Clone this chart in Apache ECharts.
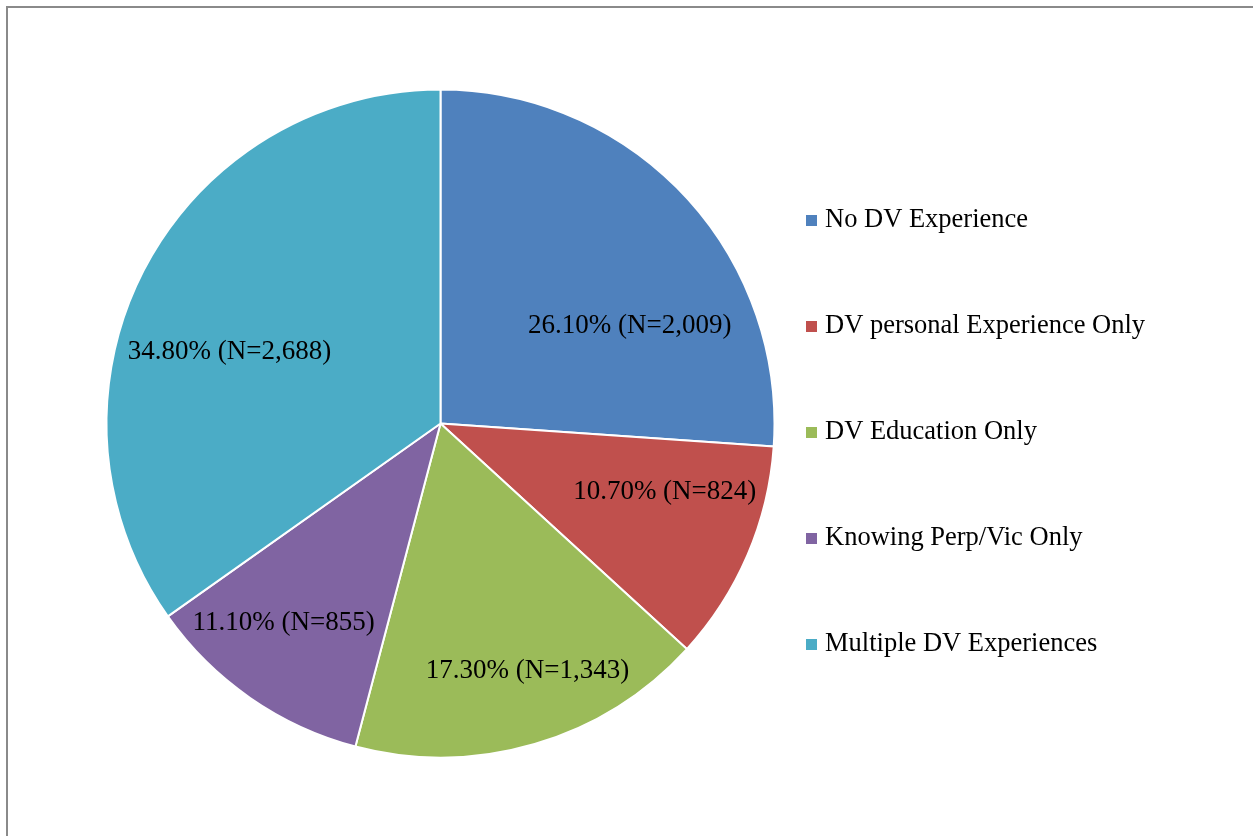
<!DOCTYPE html>
<html lang="en">
<head>
  <meta charset="UTF-8">
  <script src="https://cdn.jsdelivr.net/npm/echarts/dist/echarts.min.js"></script>
  <style>
    html, body { margin: 0; padding: 0; background: #fff; }
    #chart { width: 1253px; height: 836px; }
    /* frame around the plot, runs off right and bottom */
    #frame {
      position: absolute;
      left: 6px;
      top: 6px;
      width: 1400px;
      height: 1000px;
      border-left: 2px solid #8a8a8a;
      border-top: 2px solid #8a8a8a;
      pointer-events: none;
    }
  </style>
</head>
<body>
  <div id="chart"></div>
  <div id="frame"></div>
  <script>
    const categories = [
      'No DV Experience',
      'DV personal Experience Only',
      'DV Education Only',
      'Knowing Perp/Vic Only',
      'Multiple DV Experiences'
    ];
    const percents = [26.1, 10.7, 17.3, 11.1, 34.8];
    const counts = ['2,009', '824', '1,343', '855', '2,688'];
    const colors = ['#4F81BD', '#C0504D', '#9BBB59', '#8064A2', '#4BACC6'];
    // nudges to mimic Excel's best-fit label spots
    const labelOffsets = [[65, 18], [68, 1], [39, 84], [-60, 60], [-60, 7]];

    const chart = echarts.init(document.getElementById('chart'));
    const font = '"Liberation Serif", "Times New Roman", serif';

    chart.setOption({
      animation: false,
      color: colors,
      legend: {
        orient: 'vertical',
        left: 806,
        top: 207,
        padding: 0,
        itemWidth: 11,
        itemHeight: 11,
        itemGap: 79,
        icon: 'rect',
        itemStyle: { borderWidth: 0 },
        textStyle: {
          fontFamily: font, fontSize: 26.5, color: '#000', lineHeight: 26,
          padding: [0, 0, 0, 3]
        },
        data: categories
      },
      series: [{
        type: 'pie',
        center: [440.5, 423.5],
        radius: 334,
        startAngle: 90,
        clockwise: true,
        itemStyle: { borderColor: '#fff', borderWidth: 2 },
        label: {
          position: 'inside',
          fontFamily: font,
          fontSize: 27,
          color: '#000',
          formatter: p => p.value.toFixed(2) + '% (N=' + counts[p.dataIndex] + ')'
        },
        labelLine: { show: false },
        emphasis: { disabled: true },
        data: categories.map((name, i) => ({
          name: name,
          value: percents[i],
          label: { offset: labelOffsets[i] }
        }))
      }]
    });
  </script>
</body>
</html>
